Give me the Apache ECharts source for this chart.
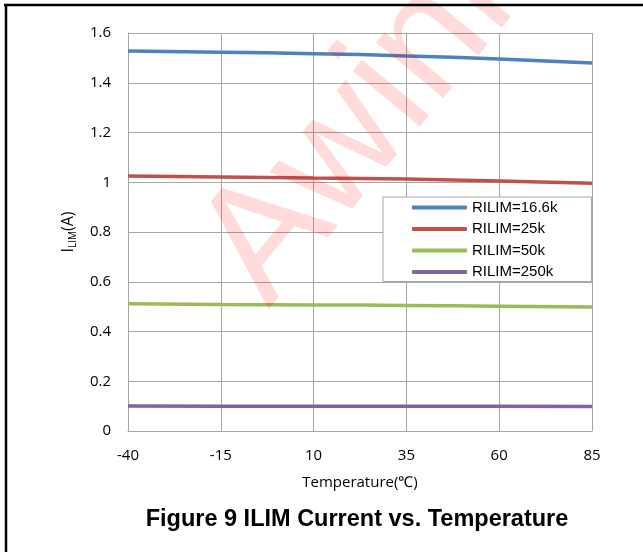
<!DOCTYPE html>
<html>
<head>
<meta charset="utf-8">
<script src="https://cdn.jsdelivr.net/npm/echarts@6/dist/echarts.min.js"></script>
<style>
html,body{margin:0;padding:0;background:#fff;}
#main{width:643px;height:552px;}
</style>
</head>
<body>
<div id="main"></div>
<script>
var temperatures = ['-40', '-15', '10', '35', '60', '85'];
var seriesNames = ['RILIM=16.6k', 'RILIM=25k', 'RILIM=50k', 'RILIM=250k'];
var rilim16k6 = [1.528, 1.523, 1.517, 1.508, 1.495, 1.479];
var rilim25k = [1.025, 1.021, 1.017, 1.013, 1.005, 0.996];
var rilim50k = [0.512, 0.509, 0.507, 0.505, 0.502, 0.498];
var rilim250k = [0.101, 0.100, 0.099, 0.099, 0.099, 0.098];
var colors = ['#4F81BD', '#C0504D', '#9BBB59', '#8064A2'];
var titleText = 'Figure 9 ILIM Current vs. Temperature';
var xName = 'Temperature(\u2103)';

var allData = [rilim16k6, rilim25k, rilim50k, rilim250k];
var chart = echarts.init(document.getElementById('main'));
var tickFont = '"Open Sans", Lato, sans-serif';
var option = {
  animation: false,
  backgroundColor: '#fff',
  color: colors,
  grid: { left: 128, right: 51, top: 33, bottom: 121 },
  xAxis: {
    type: 'category',
    data: temperatures,
    boundaryGap: false,
    axisLine: { show: true, lineStyle: { color: '#a6a6a6', width: 1 } },
    axisTick: { show: false },
    axisLabel: { color: '#000', fontSize: 15, fontFamily: tickFont, margin: 17 },
    splitLine: { show: true, lineStyle: { color: '#a6a6a6', width: 1 } }
  },
  yAxis: {
    type: 'value',
    min: 0, max: 1.6, interval: 0.2,
    axisLine: { show: true, lineStyle: { color: '#a6a6a6', width: 1 } },
    axisTick: { show: false },
    axisLabel: { color: '#000', fontSize: 15, fontFamily: tickFont, margin: 17 },
    splitLine: { show: true, lineStyle: { color: '#a6a6a6', width: 1 } },
    name: '{m|I}{s|LIM}{m|(A)}',
    nameLocation: 'middle',
    nameGap: 50,
    nameRotate: 90,
    nameTextStyle: {
      rich: {
        m: { fontSize: 16, fontFamily: tickFont, color: '#000', lineHeight: 20, verticalAlign: 'middle' },
        s: { fontSize: 10, fontFamily: tickFont, color: '#000', lineHeight: 10, verticalAlign: 'bottom' }
      }
    }
  },
  legend: {
    data: seriesNames,
    orient: 'vertical',
    left: 383, top: 197,
    padding: [3, 34, 2, 29],
    itemWidth: 55, itemHeight: 4, itemGap: 6.5,
    icon: 'roundRect',
    backgroundColor: '#fff',
    borderColor: '#a6a6a6', borderWidth: 1, borderRadius: 0,
    textStyle: { fontSize: 15, fontFamily: '"Liberation Sans", Arial, sans-serif', color: '#000' }
  },
  series: allData.map(function (d, i) {
    return {
      name: seriesNames[i],
      type: 'line',
      data: d,
      symbol: 'none',
      smooth: true,
      lineStyle: { width: 3.5, color: colors[i] },
      itemStyle: { color: colors[i] }
    };
  }),
  graphic: [
    {
      type: 'text', x: 297, y: 333, rotation: 0.88, z: 50, silent: true,
      style: { text: 'Awinic', font: '165px "Liberation Sans", Arial, sans-serif', fill: 'rgba(255,0,0,0.14)', textAlign: 'left', textVerticalAlign: 'bottom' }
    },
    {
      type: 'text', x: 360, y: 483, z: 60,
      style: { text: xName, font: '15px ' + tickFont, fill: '#000', textAlign: 'center', textVerticalAlign: 'middle' }
    },
    {
      type: 'text', x: 357, y: 520, z: 60,
      style: { text: titleText, font: 'bold 23.5px "Liberation Sans", Arial, sans-serif', fill: '#000', textAlign: 'center', textVerticalAlign: 'middle' }
    },
    {
      type: 'line', z: 100, shape: { x1: 4, y1: 5, x2: 643, y2: 5 }, style: { stroke: '#000', lineWidth: 2.5 }
    },
    {
      type: 'line', z: 100, shape: { x1: 6, y1: 4, x2: 6, y2: 552 }, style: { stroke: '#000', lineWidth: 2.5 }
    }
  ]
};
chart.setOption(option);
</script>
</body>
</html>
